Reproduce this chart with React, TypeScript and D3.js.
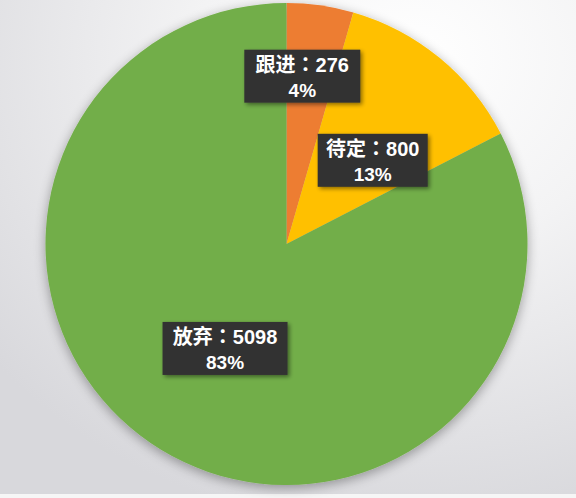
import React from "react";
import * as d3 from "d3";

// Lead status breakdown
const categories = ["跟进", "待定", "放弃"];
const counts = [276, 800, 5098];
const percents = ["4%", "13%", "83%"];
const colors = ["#ED7D31", "#FFC000", "#72AE48"];
// label box offsets relative to each slice's centroid (label radius 120)
const labelOffsets = [
  [-1, -49],
  [10, 9],
  [1, 2],
];
const labelWidths = [116, 110, 125];

const W = 576;
const H = 498;
const cx = 286.5;
const cy = 244;
const R = 241;

export default function App() {
  const pie = d3.pie<number>().sort(null).value((d) => d);
  const arcs = pie(counts);
  const arcGen = d3.arc<d3.PieArcDatum<number>>().innerRadius(0).outerRadius(R);
  const labelArc = d3.arc<d3.PieArcDatum<number>>().innerRadius(120).outerRadius(120);

  const cjkFont = "'Noto Sans CJK TC', 'Noto Sans CJK SC', sans-serif";
  const numFont = "'Liberation Sans', Arial, sans-serif";

  return (
    <svg
      width={W}
      height={H}
      style={{ position: "absolute", left: 0, top: 0 }}
      xmlns="http://www.w3.org/2000/svg"
    >
      <defs>
        <radialGradient id="bg" cx="72%" cy="12%" r="95%">
          <stop offset="0%" stopColor="#ffffff" />
          <stop offset="40%" stopColor="#f3f3f4" />
          <stop offset="100%" stopColor="#d8d8dc" />
        </radialGradient>
        <filter id="pieShadow" x="-20%" y="-20%" width="140%" height="140%">
          <feGaussianBlur in="SourceAlpha" stdDeviation="6" />
          <feOffset dx="0" dy="3" result="b" />
          <feComponentTransfer>
            <feFuncA type="linear" slope="0.35" />
          </feComponentTransfer>
          <feMerge>
            <feMergeNode />
            <feMergeNode in="SourceGraphic" />
          </feMerge>
        </filter>
        <filter id="boxShadow" x="-20%" y="-30%" width="140%" height="160%">
          <feGaussianBlur in="SourceAlpha" stdDeviation="2" />
          <feOffset dx="2" dy="2" />
          <feComponentTransfer>
            <feFuncA type="linear" slope="0.45" />
          </feComponentTransfer>
          <feMerge>
            <feMergeNode />
            <feMergeNode in="SourceGraphic" />
          </feMerge>
        </filter>
      </defs>
      <rect x={0} y={0} width={W} height={H} fill="url(#bg)" />
      <rect x={0} y={494} width={W} height={4} fill="#f6f6f6" />

      <g transform={`translate(${cx},${cy})`}>
        <g filter="url(#pieShadow)">
          {arcs.map((a, i) => (
            <path key={categories[i]} d={arcGen(a) || ""} fill={colors[i]} />
          ))}
        </g>
        {arcs.map((a, i) => {
          const [lx, ly] = labelArc.centroid(a);
          const x = lx + labelOffsets[i][0];
          const y = ly + labelOffsets[i][1];
          const bw = labelWidths[i];
          const bh = 53;
          return (
            <g key={`lab-${i}`} transform={`translate(${x},${y})`}>
              <rect
                x={-bw / 2}
                y={-bh / 2}
                width={bw}
                height={bh}
                fill="#323232"
                filter="url(#boxShadow)"
              />
              <text
                x={0}
                y={-4}
                textAnchor="middle"
                fill="#ffffff"
                fontWeight={700}
                fontSize={20}
              >
                <tspan fontFamily={cjkFont}>{categories[i]}：</tspan>
                <tspan fontFamily={numFont}>{counts[i]}</tspan>
              </text>
              <text
                x={0}
                y={21}
                textAnchor="middle"
                fill="#ffffff"
                fontFamily={numFont}
                fontWeight={700}
                fontSize={19}
              >
                {percents[i]}
              </text>
            </g>
          );
        })}
      </g>
    </svg>
  );
}
